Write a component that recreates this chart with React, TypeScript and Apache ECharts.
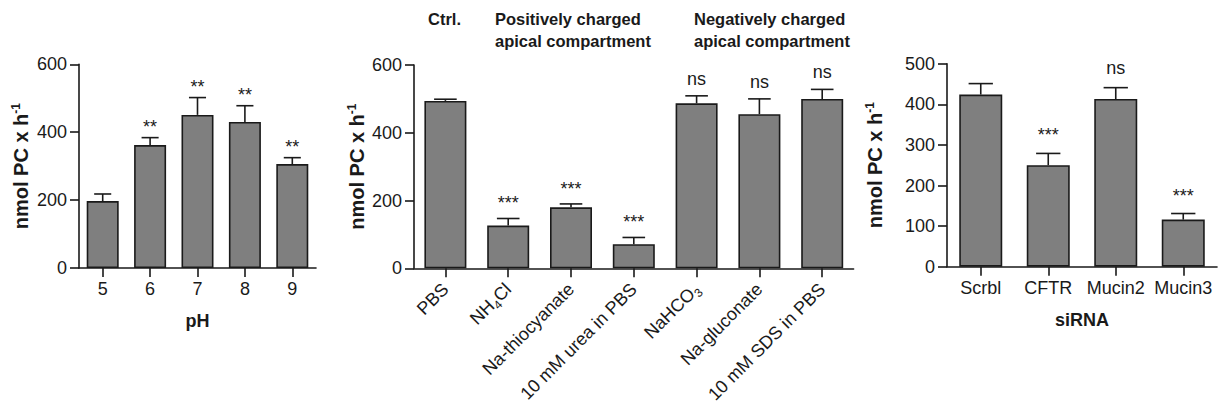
import React, { useEffect, useRef } from "react";
import * as echarts from "echarts";

const pHCats = ["5", "6", "7", "8", "9"];
const pHValues = [197, 362, 451, 430, 306];
const pHErrors = [21, 22, 51, 48, 19];
const pHSig = ["", "**", "**", "**", "**"];

const treatCats = ["PBS", "NH4Cl", "Na-thiocyanate", "10 mM urea in PBS", "NaHCO3", "Na-gluconate", "10 mM SDS in PBS"];
const treatValues = [494, 126, 180, 71, 487, 455, 500];
const treatErrors = [5, 21, 10, 20, 22, 45, 28];
const treatSig = ["", "***", "***", "***", "ns", "ns", "ns"];

const sirnaCats = ["Scrbl", "CFTR", "Mucin2", "Mucin3"];
const sirnaValues = [424, 250, 413, 116];
const sirnaErrors = [27, 29, 28, 15];
const sirnaSig = ["", "***", "ns", "***"];

const yTitle = "nmol PC x h{sup|-1}";
const FONT = "'Liberation Sans', Arial, Helvetica, sans-serif";
const INK = "#1a1a1a";
const BAR = "#7f7f7f";

function errRender(sig: string[], astOff: number, nsOff: number) {
  return (params: any, api: any) => {
    const i = api.value(0);
    const base = api.coord([i, api.value(1)]);
    const top = api.coord([i, api.value(2)]);
    const band = api.size([1, 0])[0];
    const cap = band * 0.18;
    const s = sig[params.dataIndex] || "";
    const children: any[] = [
      { type: "line", shape: { x1: base[0], y1: base[1], x2: top[0], y2: top[1] }, style: { stroke: INK, lineWidth: 1.6 } },
      { type: "line", shape: { x1: top[0] - cap, y1: top[1], x2: top[0] + cap, y2: top[1] }, style: { stroke: INK, lineWidth: 1.6 } },
    ];
    if (s) {
      children.push({
        type: "text",
        x: top[0],
        y: top[1] - (s === "ns" ? nsOff : astOff),
        style: { text: s, fontSize: 18, fontFamily: FONT, fill: INK, align: "center", verticalAlign: "middle" },
      });
    }
    return { type: "group", children };
  };
}

function yAxis(gridIndex: number, max: number, interval: number, nameGap: number) {
  return {
    type: "value",
    gridIndex,
    min: 0,
    max,
    interval,
    name: yTitle,
    nameLocation: "middle",
    nameGap,
    nameRotate: 90,
    nameTextStyle: {
      fontFamily: FONT,
      fontSize: 20,
      fontWeight: "bold",
      color: INK,
      rich: { sup: { fontFamily: FONT, fontSize: 12, fontWeight: "bold", color: INK, verticalAlign: "top", lineHeight: 22 } },
    },
    axisLine: { show: true, lineStyle: { color: INK, width: 1.6 } },
    axisTick: { show: true, length: 9, lineStyle: { color: INK, width: 1.6 } },
    axisLabel: { fontFamily: FONT, fontSize: 18, color: INK, margin: 12 },
    splitLine: { show: false },
  };
}

function xAxis(gridIndex: number, data: string[], name: string, rotate: number) {
  return {
    type: "category",
    gridIndex,
    data,
    name,
    nameLocation: "middle",
    nameGap: 44,
    nameTextStyle: { fontFamily: FONT, fontSize: 18, fontWeight: "bold", color: INK },
    axisLine: { show: true, lineStyle: { color: INK, width: 1.6 } },
    axisTick: { show: true, alignWithLabel: true, length: 9, lineStyle: { color: INK, width: 1.6 } },
    axisLabel: {
      fontFamily: FONT,
      fontSize: 18,
      color: INK,
      rotate,
      interval: 0,
      margin: rotate ? 18 : 12,
      formatter: (v: string) => v.replace("NH4Cl", "NH{sub|4}Cl").replace("NaHCO3", "NaHCO{sub|3}"),
      rich: {
        sub: { fontFamily: FONT, fontSize: 12, color: INK, verticalAlign: "bottom", lineHeight: 24 },
      },
    },
  };
}

function barSeries(idx: number, values: number[], width: number) {
  return {
    type: "bar",
    xAxisIndex: idx,
    yAxisIndex: idx,
    data: values,
    barWidth: width,
    itemStyle: { color: BAR, borderColor: INK, borderWidth: 1.6 },
    z: 2,
  };
}

function errSeries(idx: number, values: number[], errors: number[], sig: string[], astOff: number, nsOff: number) {
  return {
    type: "custom",
    xAxisIndex: idx,
    yAxisIndex: idx,
    data: values.map((v, i) => [i, v, v + errors[i]]),
    renderItem: errRender(sig, astOff, nsOff),
    z: 3,
  };
}

export default function App() {
  const ref = useRef<HTMLDivElement>(null);
  useEffect(() => {
    if (!ref.current) return;
    const chart = echarts.init(ref.current, undefined, { renderer: "svg" });
    const headStyle = { fontFamily: FONT, fontSize: 16.5, fontWeight: "bold", fill: INK, align: "center", lineHeight: 22 };
    chart.setOption({
      animation: false,
      backgroundColor: "#ffffff",
      grid: [
        { left: 79, top: 64.3, width: 237, height: 203.7 },
        { left: 414, top: 65, width: 439.6, height: 203.3 },
        { left: 947, top: 63.7, width: 270, height: 203 },
      ],
      xAxis: [
        xAxis(0, pHCats, "pH", 0),
        xAxis(1, treatCats, "", 45),
        xAxis(2, sirnaCats, "siRNA", 0),
      ],
      yAxis: [yAxis(0, 600, 200, 47), yAxis(1, 600, 200, 46), yAxis(2, 500, 100, 61)],
      graphic: [
        { type: "text", left: 428, top: 8, style: { ...headStyle, text: "Ctrl." } },
        { type: "text", left: 495, top: 8, style: { ...headStyle, text: "Positively charged\napical compartment" } },
        { type: "text", left: 694, top: 8, style: { ...headStyle, text: "Negatively charged\napical compartment" } },
      ],
      series: [
        barSeries(0, pHValues, 32),
        errSeries(0, pHValues, pHErrors, pHSig, 11, 17),
        barSeries(1, treatValues, 42),
        errSeries(1, treatValues, treatErrors, treatSig, 15, 17),
        barSeries(2, sirnaValues, 43),
        errSeries(2, sirnaValues, sirnaErrors, sirnaSig, 18, 20),
      ],
    });
    return () => chart.dispose();
  }, []);
  return <div ref={ref} style={{ position: "absolute", left: 0, top: 0, width: 1221, height: 416 }} />;
}
